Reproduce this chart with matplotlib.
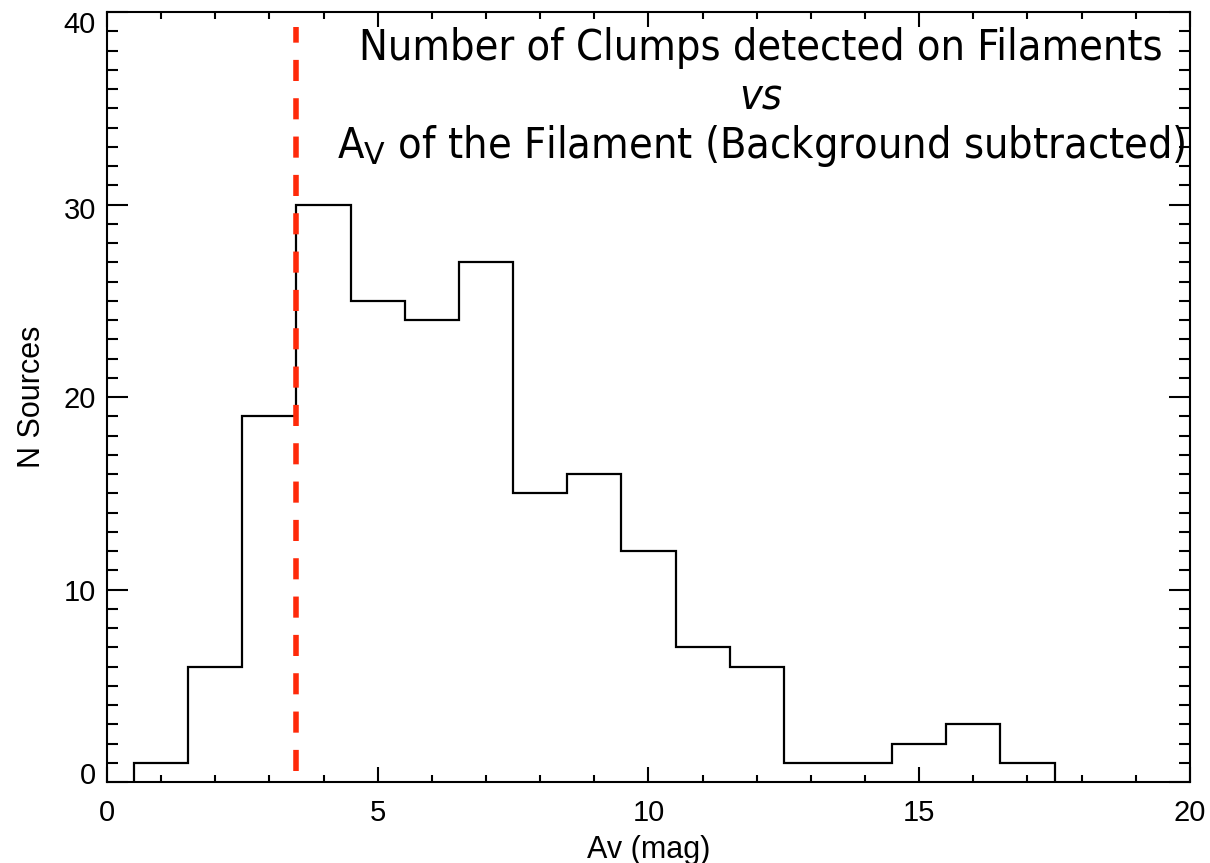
import matplotlib
matplotlib.use("Agg")
import matplotlib.pyplot as plt
import matplotlib.transforms as mtransforms
import numpy as np

# histogram of clumps per Av bin (bin width 1 mag)
bin_edges = np.arange(0.5, 18.0, 1.0)
counts = [1, 6, 19, 30, 25, 24, 27, 15, 16, 12, 7, 6, 1, 1, 2, 3, 1]
av_cut = 3.5

title_lines = ["Number of Clumps detected on Filaments",
               "vs",
               r"A$_\mathrm{V}$ of the Filament (Background subtracted)"]

plt.rcParams['font.family'] = ['Liberation Sans', 'DejaVu Sans']
plt.rcParams['mathtext.fontset'] = 'custom'
plt.rcParams['mathtext.rm'] = 'DejaVu Sans'

fig = plt.figure(figsize=(12.1, 8.63), dpi=100)
ax = fig.add_axes([0.0884, 0.0938, 0.895, 0.8922])

ax.stairs(counts, bin_edges, baseline=0, color='black', lw=1.6)
ax.plot([av_cut, av_cut], [0.6, 39.2], color='#ff2a0a', lw=4,
        dashes=(3.8, 3.1), solid_capstyle='butt')

ax.set_xlim(0, 20)
ax.set_ylim(0, 40)
ax.set_xticks([0, 5, 10, 15, 20])
ax.set_xticks(np.arange(0, 21, 1), minor=True)
ax.set_yticks([0, 10, 20, 30, 40])
ax.set_yticks(np.arange(0, 41, 1), minor=True)

for s in ax.spines.values():
    s.set_linewidth(1.5)
ax.tick_params(which='both', direction='in', top=True, right=True, width=1.5,
               labelsize=21)
ax.tick_params(axis='x', which='major', length=11, pad=12)
ax.tick_params(axis='x', which='minor', length=5)
ax.tick_params(axis='y', which='major', length=15, pad=8)
ax.tick_params(axis='y', which='minor', length=8)

# the end labels sit a little inside the axis range, as in the original
shifts = [9, 0, 0, -3, -10]   # pixels, for 0,10,20,30,40
for lab, dy in zip(ax.get_yticklabels(), shifts):
    off = mtransforms.ScaledTranslation(0, dy / 100, fig.dpi_scale_trans)
    lab.set_transform(lab.get_transform() + off)

ax.set_xlabel("Av (mag)", fontsize=22, labelpad=6)
ax.set_ylabel("N Sources", fontsize=22, labelpad=12)

ys = [37.5, 34.95, 32.4]
for k, (txt, yb) in enumerate(zip(title_lines, ys)):
    ax.text(12.08, yb, txt, ha='center', va='baseline', fontsize=31,
            family='DejaVu Sans', fontstretch='condensed',
            style='italic' if k == 1 else 'normal')

fig.savefig("out.png", dpi=100)
